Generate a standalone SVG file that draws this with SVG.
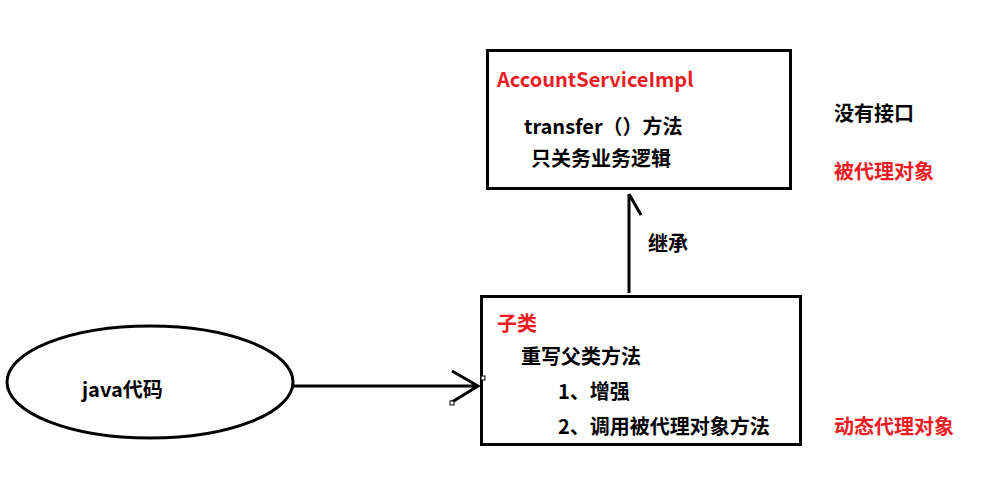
<svg xmlns="http://www.w3.org/2000/svg" width="1004" height="479" viewBox="0 0 1004 479">
<style>
.t{font-family:"Noto Sans CJK SC","Microsoft YaHei","DejaVu Sans",sans-serif;font-size:20px;font-weight:bold;fill:#000}
.r{fill:#ed1c24}
.box{fill:#fff;stroke:#000;stroke-width:3}
.ln{fill:none;stroke:#000;stroke-width:3}
.h{fill:#fff;stroke:#000;stroke-width:1}
</style>
<rect width="1004" height="479" fill="#fff"/>
<g id="impl">
<rect class="box" x="487.5" y="50.5" width="303" height="138"/>
<text class="t r" x="497" y="87">AccountServiceImpl</text>
<text class="t" x="524" y="134">transfer（）方法</text>
<text class="t" x="531" y="166">只关务业务逻辑</text>
</g>
<g id="sub">
<rect class="box" x="481.5" y="296.5" width="319" height="148"/>
<text class="t r" x="497" y="331">子类</text>
<text class="t" x="521" y="364">重写父类方法</text>
<text class="t" x="558" y="399">1、增强</text>
<text class="t" x="558" y="434">2、调用被代理对象方法</text>
</g>
<g id="java">
<ellipse class="ln" cx="150" cy="382" rx="143" ry="56"/>
<text class="t" x="82" y="397">java代码</text>
</g>
<g id="labels">
<text class="t" x="834" y="121">没有接口</text>
<text class="t r" x="834" y="179">被代理对象</text>
<text class="t r" x="834" y="434">动态代理对象</text>
</g>
<g id="connectors">
<path class="ln" d="M629 293 V194 M629 194 L641 215"/>
<text class="t" x="648" y="251">继承</text>
<path class="ln" d="M293 386 H478 M452 371 L478 386 L452 402"/>
<rect class="h" x="450" y="401" width="4" height="4"/>
<rect class="h" x="481" y="376" width="4" height="4"/>
</g>
</svg>
